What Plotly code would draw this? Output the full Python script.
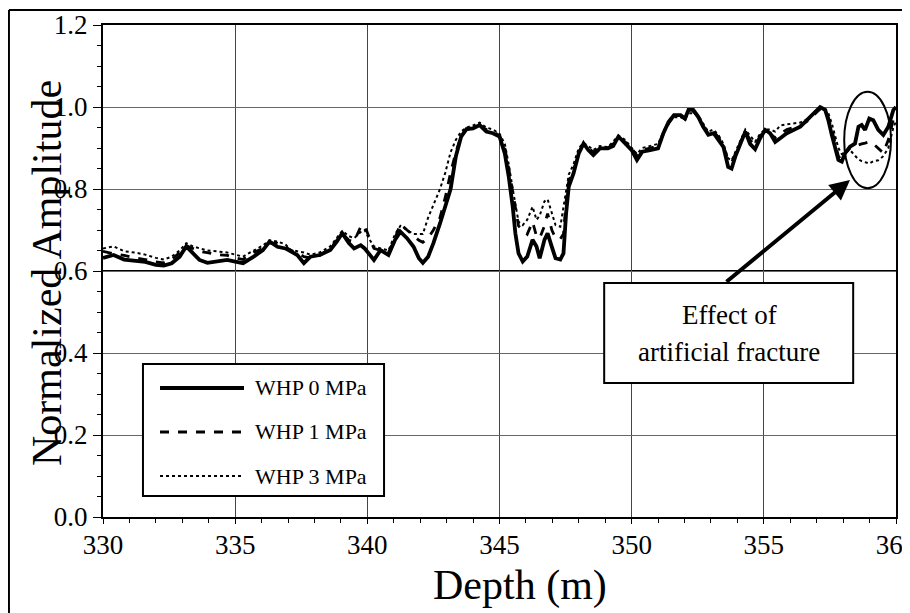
import plotly.graph_objects as go

depth = [330.0, 330.4, 330.8, 331.2, 331.6, 332.0, 332.3, 332.6, 332.9, 333.15, 333.4, 333.65, 333.95,
         334.3, 334.7, 335.0, 335.3, 335.7, 336.05, 336.3, 336.6, 336.9, 337.1, 337.35, 337.6, 337.85,
         338.2, 338.6, 338.85, 339.05, 339.3, 339.5, 339.75, 339.9, 340.05, 340.25, 340.5, 340.8, 341.05,
         341.25, 341.5, 341.75, 341.95, 342.1, 342.3, 342.5, 342.75, 342.95, 343.15, 343.35, 343.55,
         343.75, 344.0, 344.25, 344.5, 344.75, 345.0, 345.2, 345.35, 345.5, 345.6, 345.72, 345.88, 346.05,
         346.25, 346.4, 346.52, 346.7, 346.82, 346.98, 347.12, 347.3, 347.42, 347.52, 347.62, 347.8, 348.0,
         348.18, 348.36, 348.55, 348.8, 349.1, 349.3, 349.5, 349.75, 350.0, 350.2, 350.4, 350.7, 351.0,
         351.2, 351.4, 351.6, 351.85, 352.02, 352.15, 352.33, 352.52, 352.7, 352.9, 353.1, 353.3, 353.47,
         353.65, 353.78, 353.92, 354.1, 354.3, 354.48, 354.67, 354.86, 355.05, 355.24, 355.43, 355.62,
         355.87, 356.12, 356.38, 356.63, 356.88, 357.13, 357.32, 357.44, 357.57, 357.7, 357.82, 357.95,
         358.07, 358.26, 358.45, 358.58, 358.7, 358.83, 358.99, 359.14, 359.33, 359.52, 359.71, 359.9, 360.0]

whp0 = [0.632, 0.639, 0.628, 0.625, 0.622, 0.615, 0.613, 0.619, 0.635, 0.66, 0.642, 0.627, 0.62,
        0.623, 0.627, 0.623, 0.619, 0.635, 0.651, 0.672, 0.659, 0.655, 0.647, 0.639, 0.619, 0.635,
        0.639, 0.651, 0.672, 0.692, 0.668, 0.655, 0.663, 0.655, 0.643, 0.627, 0.651, 0.639, 0.676,
        0.696, 0.68, 0.659, 0.631, 0.62, 0.635, 0.668, 0.716, 0.757, 0.8, 0.88, 0.928,
        0.946, 0.948, 0.956, 0.94, 0.936, 0.928, 0.887, 0.83, 0.757, 0.692, 0.643, 0.623, 0.635,
        0.676, 0.66, 0.631, 0.676, 0.692, 0.659, 0.631, 0.628, 0.643, 0.741, 0.806, 0.838, 0.887,
        0.911, 0.895, 0.883, 0.899, 0.899, 0.905, 0.928, 0.911, 0.895, 0.871, 0.891, 0.895, 0.899,
        0.936, 0.964, 0.98, 0.98, 0.972, 0.993, 0.993, 0.976, 0.952, 0.932, 0.936, 0.92, 0.903,
        0.854, 0.85, 0.879, 0.911, 0.94, 0.91, 0.897, 0.924, 0.944, 0.936, 0.915, 0.924,
        0.936, 0.944, 0.952, 0.968, 0.985, 1.0, 0.993, 0.968, 0.932, 0.895, 0.871, 0.867,
        0.887, 0.903, 0.911, 0.952, 0.956, 0.944, 0.972, 0.968, 0.944, 0.932, 0.952, 0.993, 1.0]

whp1 = [0.648, 0.642, 0.638, 0.632, 0.628, 0.622, 0.62, 0.628, 0.645, 0.662, 0.655, 0.648, 0.645,
        0.64, 0.638, 0.632, 0.628, 0.645, 0.655, 0.668, 0.668, 0.66, 0.65, 0.645, 0.635, 0.632,
        0.638, 0.655, 0.675, 0.692, 0.675, 0.672, 0.708, 0.712, 0.685, 0.655, 0.65, 0.645, 0.68,
        0.715, 0.7, 0.685, 0.675, 0.67, 0.68, 0.7, 0.73, 0.78, 0.84, 0.89, 0.93,
        0.945, 0.95, 0.955, 0.945, 0.94, 0.93, 0.9, 0.85, 0.79, 0.75, 0.71, 0.7, 0.69,
        0.72, 0.685, 0.68, 0.71, 0.74, 0.7, 0.68, 0.678, 0.69, 0.77, 0.82, 0.845, 0.89,
        0.91, 0.9, 0.89, 0.9, 0.9, 0.91, 0.925, 0.915, 0.9, 0.88, 0.895, 0.9, 0.905,
        0.935, 0.96, 0.978, 0.978, 0.97, 0.99, 0.99, 0.975, 0.955, 0.935, 0.94, 0.925, 0.905,
        0.87, 0.865, 0.885, 0.915, 0.94, 0.92, 0.905, 0.93, 0.94, 0.935, 0.925, 0.935,
        0.945, 0.95, 0.955, 0.965, 0.98, 0.995, 0.99, 0.975, 0.945, 0.91, 0.88, 0.87,
        0.887, 0.9, 0.905, 0.907, 0.91, 0.912, 0.915, 0.91, 0.9, 0.888, 0.92, 0.97, 0.985]

whp3 = [0.655, 0.66, 0.648, 0.645, 0.64, 0.632, 0.628, 0.635, 0.65, 0.668, 0.66, 0.655, 0.65,
        0.648, 0.645, 0.64, 0.635, 0.65, 0.662, 0.675, 0.672, 0.665, 0.652, 0.648, 0.645, 0.64,
        0.645, 0.66, 0.68, 0.698, 0.685, 0.68, 0.695, 0.7, 0.68, 0.66, 0.655, 0.65, 0.69,
        0.71, 0.7, 0.69, 0.69, 0.69, 0.73, 0.76, 0.8, 0.84, 0.89, 0.92, 0.94,
        0.95, 0.955, 0.962, 0.95, 0.945, 0.935, 0.91, 0.86, 0.8, 0.76, 0.72, 0.712, 0.725,
        0.757, 0.725, 0.735, 0.77, 0.775, 0.74, 0.712, 0.708, 0.76, 0.8, 0.835, 0.86, 0.9,
        0.912, 0.905, 0.895, 0.905, 0.902, 0.915, 0.93, 0.92, 0.9, 0.885, 0.9, 0.905, 0.91,
        0.94, 0.965, 0.975, 0.975, 0.972, 0.985, 0.985, 0.98, 0.96, 0.94, 0.945, 0.93, 0.91,
        0.875, 0.87, 0.89, 0.92, 0.945, 0.93, 0.915, 0.935, 0.945, 0.945, 0.94, 0.955,
        0.958, 0.96, 0.962, 0.97, 0.985, 0.998, 0.992, 0.985, 0.96, 0.93, 0.9, 0.885,
        0.89, 0.895, 0.88, 0.872, 0.868, 0.865, 0.862, 0.868, 0.87, 0.88, 0.9, 0.95, 0.965]

series_names = ["WHP 0 MPa", "WHP 1 MPa", "WHP 3 MPa"]
x_ticks = [330, 335, 340, 345, 350, 355, 360]
y_ticks = [0.0, 0.2, 0.4, 0.6, 0.8, 1.0, 1.2]

FONT = "Liberation Serif"

styles = [dict(width=3.8, dash="solid"), dict(width=2.8, dash="dash"), dict(width=2, dash="dot")]

fig = go.Figure()
for name, vals, st in zip(series_names, [whp0, whp1, whp3], styles):
    fig.add_trace(go.Scatter(x=depth, y=vals, mode="lines", name=name,
                             line=dict(color="black", width=st["width"], dash=st["dash"]),
                             showlegend=False))

fig.update_layout(
    width=902, height=605, autosize=False,
    margin=dict(l=95, r=14, t=17, b=96, autoexpand=False),
    paper_bgcolor="white", plot_bgcolor="white",
    font=dict(family=FONT, color="black"),
)
fig.update_xaxes(range=[330, 360], tickvals=x_ticks, ticktext=[str(v) for v in x_ticks],
                 automargin=False, ticklabeloverflow="allow", ticklabelstandoff=-2,
                 showgrid=True, gridcolor="#444", gridwidth=1,
                 showline=True, linecolor="black", linewidth=2, mirror=True,
                 ticks="outside", ticklen=5, tickcolor="black",
                 minor=dict(dtick=1, ticks="outside", ticklen=4, tickcolor="black", showgrid=False),
                 tickfont=dict(family=FONT, size=27), zeroline=False)
fig.update_yaxes(range=[0, 1.2], tickvals=y_ticks, ticktext=[f"{v:.1f}" for v in y_ticks],
                 automargin=False, ticklabeloverflow="allow",
                 showgrid=True, gridcolor="#666", gridwidth=1,
                 showline=True, linecolor="black", linewidth=2, mirror=True,
                 ticks="outside", ticklen=8, tickcolor="black",
                 minor=dict(dtick=0.05, ticks="outside", ticklen=4, tickcolor="black", showgrid=False),
                 tickfont=dict(family=FONT, size=27), zeroline=False)

shapes = []
# emphasized 0.6 line
shapes.append(dict(type="line", xref="x", yref="y", x0=330, x1=360, y0=0.6, y1=0.6,
                   line=dict(color="black", width=2), layer="below"))
# outer frame (left and top)
shapes.append(dict(type="line", xref="paper", yref="paper", x0=-0.1186, x1=-0.1186, y0=-0.2, y1=1.0305,
                   line=dict(color="black", width=2)))
shapes.append(dict(type="line", xref="paper", yref="paper", x0=-0.1186, x1=1.02, y0=1.0305, y1=1.0305,
                   line=dict(color="black", width=2)))
# legend box
shapes.append(dict(type="rect", xref="paper", yref="paper", x0=0.0504, x1=0.3544, y0=0.0427, y1=0.311,
                   line=dict(color="black", width=2), fillcolor="white"))
leg_y = [0.2622, 0.1728, 0.0833]
for st, yy in zip(styles, leg_y):
    shapes.append(dict(type="line", xref="paper", yref="paper", x0=0.0719, x1=0.1778, y0=yy, y1=yy,
                       line=dict(color="black", width=st["width"], dash=st["dash"])))
# annotation box
shapes.append(dict(type="rect", xref="x", yref="y", x0=348.96, x1=358.38, y0=0.327, y1=0.571,
                   line=dict(color="black", width=2), fillcolor="white"))
# ellipse
shapes.append(dict(type="circle", xref="x", yref="y", x0=358.04, x1=359.81, y0=0.802, y1=1.037,
                   line=dict(color="black", width=2)))
fig.update_layout(shapes=shapes)

annotations = []
for name, yy in zip(series_names, leg_y):
    annotations.append(dict(text=name, xref="paper", yref="paper", x=0.1892, y=yy, xanchor="left",
                            yanchor="middle", showarrow=False, font=dict(family=FONT, size=22)))
annotations.append(dict(text="Effect of", xref="x", yref="y", x=353.685, y=0.4927, showarrow=False,
                        font=dict(family=FONT, size=27)))
annotations.append(dict(text="artificial fracture", xref="x", yref="y", x=353.685, y=0.4024,
                        showarrow=False, font=dict(family=FONT, size=27)))
annotations.append(dict(text="", xref="x", yref="y", x=358.26, y=0.822, ax=-125, ay=103,
                        showarrow=True, arrowhead=2, arrowsize=1, arrowwidth=4, arrowcolor="black",
                        standoff=0))
annotations.append(dict(text="Normalized Amplitude", xref="paper", yref="paper", x=-0.0706, y=0.496,
                        textangle=-90, showarrow=False, xanchor="center", yanchor="middle",
                        font=dict(family=FONT, size=42)))
annotations.append(dict(text="Depth (m)", xref="paper", yref="paper", x=0.526, y=-0.14,
                        showarrow=False, xanchor="center", yanchor="middle",
                        font=dict(family=FONT, size=42)))
fig.update_layout(annotations=annotations)

fig.write_html("out.html")
